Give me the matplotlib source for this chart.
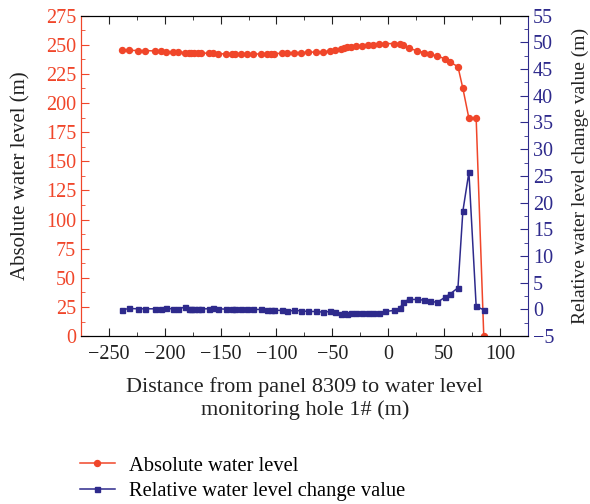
import matplotlib.pyplot as plt
from matplotlib.ticker import MultipleLocator

plt.rcParams['font.family'] = 'Liberation Serif'

# Distancia del panel 8309 al pozo 1# (m)
distancia = [-238.1, -231.9, -223.9, -217.4, -208.8, -203.7, -199.0, -192.5, -188.0, -181.8,
             -178.5, -176.2, -173.8, -170.5, -167.3, -160.7, -157.2, -152.1, -145.6, -140.0,
             -137.0, -132.0, -126.0, -121.3, -114.2, -108.2, -105.3, -102.3, -95.5, -90.5,
             -84.5, -78.0, -71.5, -64.9, -58.4, -51.9, -47.4, -42.4, -39.7, -37.1,
             -33.5, -28.8, -23.7, -18.4, -13.3, -8.6, -3.0, 5.0, 10.4, 13.3,
             18.1, 25.8, 31.7, 37.7, 43.6, 50.4, 55.5, 62.3, 66.7, 72.1,
             78.6, 85.4]

# Nivel absoluto del agua (m)
nivel_absoluto = [245.6, 245.3, 245.0, 245.0, 244.7, 244.4, 244.1, 243.8, 243.8, 243.3,
                  243.3, 243.3, 243.0, 243.0, 243.0, 242.7, 242.7, 242.4, 242.1, 242.1,
                  242.1, 242.1, 242.1, 242.1, 242.1, 242.1, 242.4, 242.4, 242.7, 243.0,
                  243.3, 243.3, 243.6, 243.8, 244.1, 244.7, 245.6, 246.7, 247.0, 247.8,
                  248.4, 249.0, 249.3, 249.8, 250.1, 250.7, 251.0, 251.0, 251.0, 249.6,
                  247.0, 244.9, 243.3, 241.8, 240.4, 238.1, 235.0, 231.2, 212.6, 186.9,
                  186.9, 0.0]

# Cambio relativo del nivel del agua (m)
cambio_relativo = [-0.07, 0.18, 0.12, 0.12, 0.12, 0.12, 0.18, 0.12, 0.12, 0.43,
                   0.06, 0.12, 0.12, 0.12, 0.12, 0.12, 0.18, 0.12, 0.06, 0.06,
                   0.06, 0.0, 0.0, 0.0, 0.0, -0.07, -0.13, -0.13, -0.19, -0.32,
                   -0.19, -0.25, -0.38, -0.38, -0.50, -0.38, -0.50, -0.94, -0.63, -0.82,
                   -0.69, -0.57, -0.57, -0.57, -0.57, -0.57, -0.38, -0.19, 0.25, 1.31,
                   1.87, 1.87, 1.74, 1.56, 1.31, 2.24, 2.93, 4.05, 18.4, 25.7,
                   0.56, -0.07]

rojo = '#f0462a'
azul = '#2e2a8c'
gris = '#222222'

fig = plt.figure(figsize=(5.9, 5.04), dpi=100)
ax = fig.add_axes([0.137, 0.333, 0.758, 0.636])
ax2 = ax.twinx()

l1, = ax.plot(distancia, nivel_absoluto, '-o', color=rojo, markersize=4.3, linewidth=1.1,
              label='Absolute water level')
l2, = ax2.plot(distancia, cambio_relativo, '-s', color=azul, markersize=3.6, linewidth=1.1,
               label='Relative water level change value')

ax.set_xlim(-275, 125)
ax.set_ylim(0, 275)
ax2.set_ylim(-5, 55)
ax.xaxis.set_major_locator(MultipleLocator(50))
ax.xaxis.set_minor_locator(MultipleLocator(25))
ax.yaxis.set_major_locator(MultipleLocator(25))
ax.yaxis.set_minor_locator(MultipleLocator(12.5))
ax2.yaxis.set_major_locator(MultipleLocator(5))
ax2.yaxis.set_minor_locator(MultipleLocator(2.5))

# Marcas hacia dentro, como en el original
ax.tick_params(axis='x', which='both', direction='in', top=True, labelsize=14.5, colors=gris, pad=6)
ax.tick_params(axis='x', which='major', length=6)
ax.tick_params(axis='x', which='minor', length=3)
ax.tick_params(axis='y', which='both', direction='in', colors=rojo, labelsize=14.5)
ax.tick_params(axis='y', which='major', length=6)
ax.tick_params(axis='y', which='minor', length=3)
ax2.tick_params(axis='y', which='both', direction='in', colors=azul, labelsize=14.5)
ax2.tick_params(axis='y', which='major', length=6)
ax2.tick_params(axis='y', which='minor', length=3)

ax.spines['left'].set_color(rojo)
ax2.spines['left'].set_color(rojo)
ax2.spines['right'].set_color(azul)
ax.spines['right'].set_visible(False)

ax.set_xlabel('Distance from panel 8309 to water level\nmonitoring hole 1# (m)',
              fontsize=16, color=gris, linespacing=1.2)
ax.xaxis.set_label_coords(0.501, -0.128)
ax.set_ylabel('Absolute water level (m)', fontsize=15, color=gris)
ax.yaxis.set_label_coords(-0.112, 0.5)
ax2.set_ylabel('Relative water level change value (m)', fontsize=14, color=gris,
               rotation=90)
ax2.yaxis.set_label_coords(1.097, 0.5)

fig.legend(handles=[l1, l2], loc='upper left', bbox_to_anchor=(0.1356, 0.095),
           frameon=False, fontsize=14.8, handlelength=1.7, handletextpad=0.7,
           labelspacing=0.3, borderpad=0, borderaxespad=0)

fig.savefig('out.png', dpi=100)
